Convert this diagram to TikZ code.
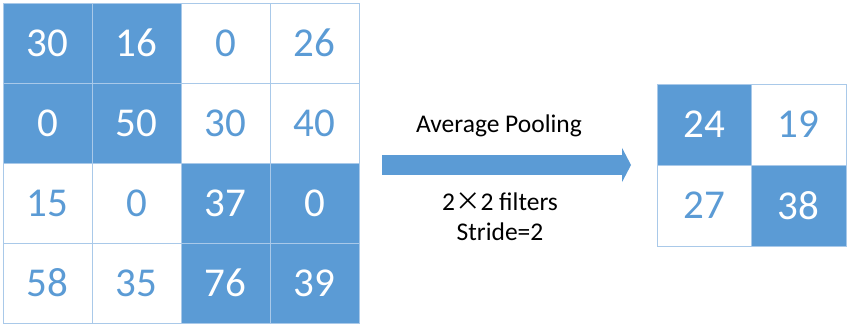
\documentclass[tikz,border=0pt]{standalone}
\usepackage{fontspec}
\setmainfont{Carlito}
\newfontfamily\cjk{Noto Sans CJK SC}
\usetikzlibrary{arrows.meta}
\definecolor{cellblue}{HTML}{5B9BD5}
\definecolor{gridline}{HTML}{A9C9E9}
\begin{document}
\begin{tikzpicture}[x=1pt,y=-1pt,
  cell/.style={draw=gridline, line width=1pt, inner sep=0pt, minimum width=89pt, minimum height=80pt, font=\fontsize{41}{41}\selectfont},
  bcell/.style={cell, fill=cellblue, text=white},
  wcell/.style={cell, fill=white, text=cellblue},
  scell/.style={draw=gridline, line width=1pt, inner sep=0pt, minimum width=94.5pt, minimum height=81pt, font=\fontsize{41}{41}\selectfont},
  sbcell/.style={scell, fill=cellblue, text=white},
  swcell/.style={scell, fill=white, text=cellblue},
  lbl/.style={font=\fontsize{25.5}{25.5}\selectfont, text=black, inner sep=0pt, anchor=base}]
\useasboundingbox (0,0) rectangle (850,332);
\fill[white] (0,0) rectangle (850,332);
% left grid
\node[bcell] (a11) at (47.5,43) {30};
\node[bcell] (a12) at (136.5,43) {16};
\node[wcell] (a13) at (225.5,43) {0};
\node[wcell] (a14) at (314.5,43) {26};
\node[bcell] (a21) at (47.5,123) {0};
\node[bcell] (a22) at (136.5,123) {50};
\node[wcell] (a23) at (225.5,123) {30};
\node[wcell] (a24) at (314.5,123) {40};
\node[wcell] (a31) at (47.5,203) {15};
\node[wcell] (a32) at (136.5,203) {0};
\node[bcell] (a33) at (225.5,203) {37};
\node[bcell] (a34) at (314.5,203) {0};
\node[wcell] (a41) at (47.5,283) {58};
\node[wcell] (a42) at (136.5,283) {35};
\node[bcell] (a43) at (225.5,283) {76};
\node[bcell] (a44) at (314.5,283) {39};
% right grid
\node[sbcell] (b11) at (704.25,124.5) {24};
\node[swcell] (b12) at (798.75,124.5) {19};
\node[swcell] (b21) at (704.25,205.5) {27};
\node[sbcell] (b22) at (798.75,205.5) {38};
% arrow
\coordinate (as) at (382,165);
\coordinate (ae) at (631,165);
\draw[cellblue, line width=20pt, -{Triangle[length=9pt,width=34pt]}] (as) -- (ae);
% labels
\node[lbl] (t1) at (499,132) {Average Pooling};
\node[lbl] (t2) at (500,210) {2{\cjk ×}2 filters};
\node[lbl] (t3) at (500,240) {Stride=2};
\end{tikzpicture}
\end{document}
